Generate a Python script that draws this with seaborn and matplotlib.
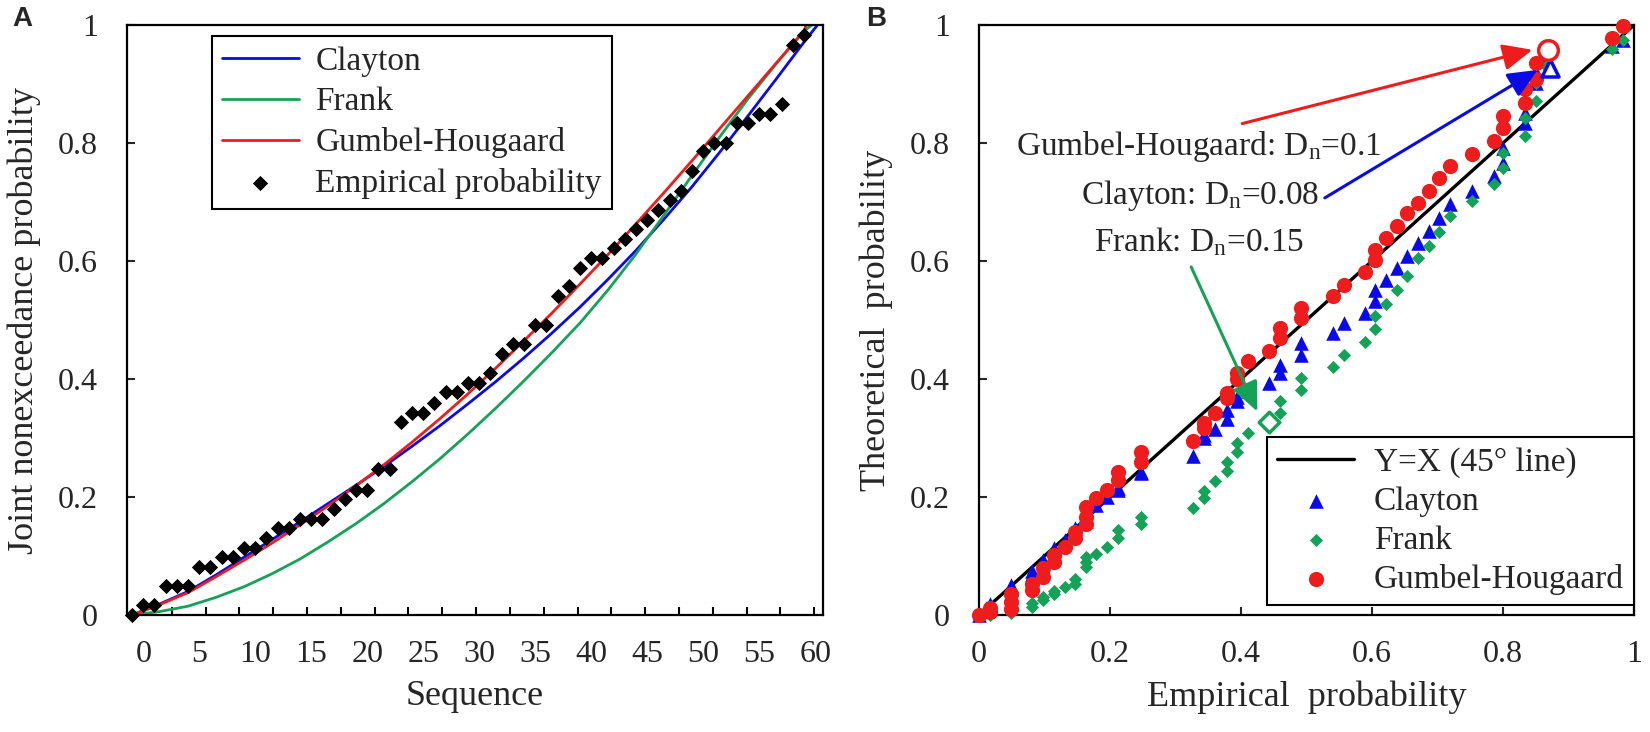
import numpy as np
import pandas as pd
import matplotlib
matplotlib.use('Agg')
from matplotlib import pyplot as plt
import seaborn as sns

# ---- data ----

# sequence number of each observation (panel A x axis)
sequence = list(range(-1, 60))

# empirical joint nonexceedance probability (panel A diamonds, panel B x values)
empirical = [0.0, 0.017, 0.017, 0.049, 0.049, 0.049, 0.081, 0.081, 0.098, 0.098,
             0.114, 0.114, 0.131, 0.147, 0.147, 0.163, 0.163, 0.163, 0.179, 0.196,
             0.212, 0.212, 0.248, 0.248, 0.327, 0.343, 0.343, 0.360, 0.378, 0.378,
             0.394, 0.394, 0.410, 0.443, 0.459, 0.459, 0.492, 0.492, 0.540, 0.557,
             0.589, 0.605, 0.605, 0.622, 0.638, 0.654, 0.670, 0.687, 0.703, 0.719,
             0.752, 0.787, 0.800, 0.800, 0.834, 0.834, 0.850, 0.850, 0.866, 0.966, 0.983]

# theoretical probabilities (panel B)
clayton_theo = [0.0, 0.019, 0.015, 0.051, 0.048, 0.044, 0.074, 0.070, 0.094, 0.090,
                0.114, 0.110, 0.128, 0.147, 0.143, 0.168, 0.165, 0.160, 0.187, 0.200,
                0.215, 0.212, 0.243, 0.240, 0.270, 0.300, 0.305, 0.316, 0.333, 0.347,
                0.362, 0.370, 0.379, 0.393, 0.410, 0.424, 0.441, 0.461, 0.478, 0.495,
                0.512, 0.532, 0.551, 0.568, 0.588, 0.608, 0.630, 0.651, 0.673, 0.697,
                0.718, 0.744, 0.766, 0.792, 0.834, 0.851, 0.902, 0.920, 0.947, 0.964, 0.975]

frank_theo = [0.0, 0.0, 0.003, 0.004, 0.006, 0.008, 0.013, 0.020, 0.025, 0.030,
              0.036, 0.040, 0.047, 0.053, 0.061, 0.081, 0.090, 0.098, 0.104, 0.116,
              0.130, 0.144, 0.155, 0.166, 0.181, 0.198, 0.211, 0.227, 0.244, 0.260,
              0.276, 0.292, 0.309, 0.328, 0.342, 0.362, 0.382, 0.401, 0.421, 0.441,
              0.463, 0.485, 0.506, 0.528, 0.551, 0.574, 0.605, 0.625, 0.650, 0.676,
              0.701, 0.730, 0.758, 0.783, 0.812, 0.843, 0.871, 0.902, 0.930, 0.960, 0.975]

gumbel_theo = [0.0, 0.005, 0.012, 0.011, 0.022, 0.036, 0.042, 0.053, 0.065, 0.079,
               0.090, 0.101, 0.115, 0.130, 0.141, 0.155, 0.166, 0.183, 0.198, 0.212,
               0.229, 0.243, 0.260, 0.277, 0.295, 0.317, 0.325, 0.342, 0.368, 0.376,
               0.400, 0.410, 0.430, 0.447, 0.469, 0.486, 0.503, 0.520, 0.540, 0.560,
               0.582, 0.602, 0.619, 0.639, 0.659, 0.681, 0.698, 0.719, 0.741, 0.761,
               0.781, 0.803, 0.826, 0.846, 0.868, 0.891, 0.908, 0.936, 0.956, 0.978, 0.998]

# fitted copula curves (panel A), sampled along the sequence axis
curve_x = [-1, 1.5, 4, 6.5, 9, 11.5, 14, 16.5, 19, 21.5, 24, 26.5, 29, 31.5, 34, 36.5,
           39, 41.5, 44, 46.5, 49, 51.5, 54, 56.5, 59]
clayton_y = [0.0, 0.019, 0.040, 0.068, 0.098, 0.128, 0.158, 0.189, 0.220, 0.252, 0.286, 0.321,
             0.358, 0.396, 0.436, 0.478, 0.522, 0.569, 0.618, 0.671, 0.726, 0.785, 0.846,
             0.908, 0.971]
frank_y = [0.0, 0.006, 0.015, 0.030, 0.048, 0.070, 0.095, 0.124, 0.155, 0.189, 0.226, 0.265,
           0.307, 0.351, 0.397, 0.445, 0.495, 0.551, 0.612, 0.678, 0.745, 0.811, 0.875,
           0.934, 0.990]
gumbel_y = [0.0, 0.018, 0.038, 0.065, 0.093, 0.122, 0.153, 0.185, 0.219, 0.255, 0.293, 0.333,
            0.375, 0.419, 0.465, 0.512, 0.561, 0.611, 0.663, 0.716, 0.770, 0.825, 0.880,
            0.935, 0.990]
# where each curve reaches probability 1
clayton_end = 60.2
frank_end = 59.7
gumbel_end = 59.2

# points with the largest deviation (hollow markers) : Clayton, Frank, Gumbel
maxdev_x = [0.872, 0.443, 0.868]
maxdev_y = [0.928, 0.328, 0.957]

names = ['Clayton', 'Frank', 'Gumbel-Hougaard']
dn_text = ['Clayton: D$_n$=0.08', 'Frank: D$_n$=0.15', 'Gumbel-Hougaard: D$_n$=0.1']

a_xticks = [0, 5, 10, 15, 20, 25, 30, 35, 40, 45, 50, 55, 60]
prob_ticks = [0, 0.2, 0.4, 0.6, 0.8, 1.0]
prob_labels = ['0', '0.2', '0.4', '0.6', '0.8', '1']

# ---- style ----
sns.set_style('ticks')
plt.rcParams['font.family'] = ['Liberation Serif', 'DejaVu Serif']
plt.rcParams['mathtext.default'] = 'regular'

blue = '#0a0ae6'
green = '#15a158'
red = '#ee1c1c'

fig = plt.figure(figsize=(16.5, 7.32), dpi=100)
ax1 = fig.add_axes([0.077, 0.1598, 0.4218, 0.806])
ax2 = fig.add_axes([0.5933, 0.1598, 0.397, 0.806])

# ---- panel A ----
curves = pd.DataFrame({'x': curve_x, 'Clayton': clayton_y, 'Frank': frank_y,
                       'Gumbel-Hougaard': gumbel_y})
for name, c, end in zip(names, [blue, green, red], [clayton_end, frank_end, gumbel_end]):
    xs = curves['x'].tolist() + [end]
    ys = curves[name].tolist() + [1.0]
    sns.lineplot(x=xs, y=ys, color=c, lw=2.0, sort=False, ax=ax1, label=name)
sns.scatterplot(x=sequence, y=empirical, marker='D', s=60, color='black', linewidth=0,
                ax=ax1, label='Empirical probability', zorder=4, clip_on=False)

ax1.set_xlim(-1.45, 60.7)
ax1.set_ylim(0, 1)
ax1.set_xticks(a_xticks)
ax1.set_xticklabels([str(t) for t in a_xticks])
ax1.set_xticks(np.arange(2.54, 60.5, 3.02), minor=True)
ax1.tick_params(axis='x', which='major', length=0, pad=18, labelsize=23)
ax1.tick_params(axis='x', which='minor', direction='in', length=6, width=1.5, color='black')
ax1.set_yticks(prob_ticks)
ax1.set_yticklabels(prob_labels)
ax1.tick_params(axis='y', direction='in', length=6, width=1.5, pad=21, labelsize=23)
ax1.set_xlabel('Sequence', fontsize=26, labelpad=8)
ax1.set_ylabel('Joint nonexceedance probability', fontsize=26, labelpad=12)

h, l = ax1.get_legend_handles_labels()
leg1 = ax1.legend(h, l, loc='upper left', bbox_to_anchor=(0.122, 0.981), borderaxespad=0,
                  fontsize=24, frameon=True, fancybox=False, edgecolor='black', framealpha=1,
                  handlelength=2.3, labelspacing=0.3, borderpad=0.3, handletextpad=0.5)
leg1.get_frame().set_linewidth(1.5)

# ---- panel B ----
ax2.axline((0, 0), slope=1, color='black', lw=2.4, label='Y=X (45\u00b0 line)', zorder=2)
sns.scatterplot(x=empirical, y=clayton_theo, marker='^', s=110, color=blue, linewidth=0,
                ax=ax2, label=names[0], zorder=3, clip_on=False)
sns.scatterplot(x=empirical, y=frank_theo, marker='D', s=45, color=green, linewidth=0,
                ax=ax2, label=names[1], zorder=3, clip_on=False)
sns.scatterplot(x=empirical, y=gumbel_theo, marker='o', s=120, color=red, linewidth=0,
                ax=ax2, label=names[2], zorder=4, clip_on=False)

# hollow markers for the largest deviation
for mx, my, mk, c, sz in zip(maxdev_x, maxdev_y, ['^', 'D', 'o'], [blue, green, red], [150, 110, 200]):
    ax2.scatter([mx], [my], marker=mk, s=sz, facecolor='white', edgecolor=c, linewidth=2.5, zorder=5)

# K-S statistic annotations with arrows
arr = dict(arrowstyle='-|>,head_length=0.9,head_width=0.4', lw=2.2, mutation_scale=20,
           shrinkA=0, shrinkB=0)
ax2.annotate('', xy=(0.845, 0.958), xytext=(0.402, 0.833),
             arrowprops=dict(arr, color=red), zorder=6)
ax2.annotate('', xy=(0.853, 0.924), xytext=(0.528, 0.707),
             arrowprops=dict(arr, color=blue), zorder=6)
ax2.annotate('', xy=(0.425, 0.345), xytext=(0.324, 0.590),
             arrowprops=dict(arr, color=green), zorder=6)
ax2.text(0.335, 0.779, dn_text[2], ha='center', va='baseline', fontsize=24)
ax2.text(0.338, 0.697, dn_text[0], ha='center', va='baseline', fontsize=24)
ax2.text(0.336, 0.616, dn_text[1], ha='center', va='baseline', fontsize=24)

ax2.set_xlim(0, 1)
ax2.set_ylim(0, 1)
ax2.set_xticks(prob_ticks)
ax2.set_xticklabels(prob_labels)
ax2.set_yticks(prob_ticks)
ax2.set_yticklabels(prob_labels)
ax2.tick_params(axis='x', direction='in', length=6, width=1.5, pad=18, labelsize=23)
ax2.tick_params(axis='y', direction='in', length=6, width=1.5, pad=21, labelsize=23)
ax2.set_xlabel('Empirical  probability', fontsize=26, labelpad=8)
ax2.set_ylabel('Theoretical  probability', fontsize=26, labelpad=12)

h, l = ax2.get_legend_handles_labels()
leg2 = ax2.legend(h, l, loc='lower right', bbox_to_anchor=(1.0, 0.017), borderaxespad=0,
                  fontsize=24, frameon=True, fancybox=False, edgecolor='black', framealpha=1,
                  handlelength=2.3, labelspacing=0.25, borderpad=0.3, handletextpad=0.6)
leg2.get_frame().set_linewidth(1.5)

for ax in (ax1, ax2):
    for sp in ax.spines.values():
        sp.set_visible(True)
        sp.set_linewidth(1.6)
        sp.set_color('black')

fig.text(12 / 1650, 1 - 6 / 732, 'A', ha='left', va='top', fontsize=20, fontweight='bold',
         family='Liberation Sans')
fig.text(866 / 1650, 1 - 6 / 732, 'B', ha='left', va='top', fontsize=20, fontweight='bold',
         family='Liberation Sans')

plt.savefig('out.png', dpi=100)
